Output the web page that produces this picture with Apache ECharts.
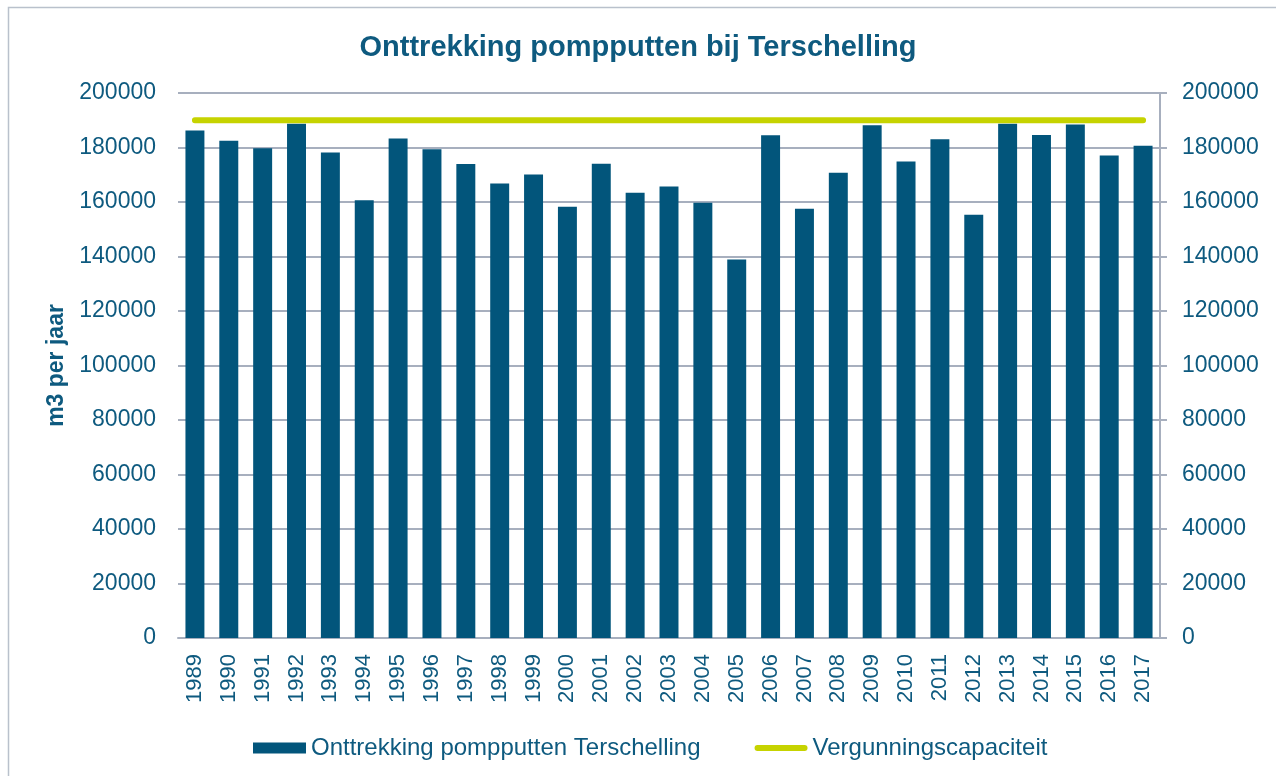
<!DOCTYPE html>
<html>
<head>
<meta charset="utf-8">
<script src="https://cdn.jsdelivr.net/npm/echarts@6/dist/echarts.min.js"></script>
<style>
html,body{margin:0;padding:0;background:#fff;}
#chart{width:1276px;height:776px;}
</style>
</head>
<body>
<div id="chart"></div>
<script>
const years = ['1989','1990','1991','1992','1993','1994','1995','1996','1997','1998','1999','2000','2001','2002','2003','2004','2005','2006','2007','2008','2009','2010','2011','2012','2013','2014','2015','2016','2017'];
const onttrekking = [186200,182500,179700,188700,178200,160600,183300,179400,173900,166800,170100,158300,174000,163400,165700,159700,138900,184500,157500,170700,188200,174900,183000,155300,188700,184600,188400,177100,180600];
const vergunning = [190000,190000,190000,190000,190000,190000,190000,190000,190000,190000,190000,190000,190000,190000,190000,190000,190000,190000,190000,190000,190000,190000,190000,190000,190000,190000,190000,190000,190000];
const seriesNames = ['Onttrekking pompputten Terschelling','Vergunningscapaciteit'];
const titleText = 'Onttrekking pompputten bij Terschelling';
const yName = 'm3 per jaar';

const txt = '#0e5a7f';
const gridCol = '#a7afbe';
const font = '"Liberation Sans", Arial, sans-serif';
const plain = v => String(v);

const chart = echarts.init(document.getElementById('chart'), null, {renderer:'canvas'});
chart.setOption({
  animation:false,
  backgroundColor:'#fff',
  graphic:[{type:'rect', shape:{x:8.5,y:7.5,width:1300,height:800}, style:{fill:'none', stroke:'#b9c1cc', lineWidth:1.5}, silent:true, z:-10}],
  title:{text:titleText, left:'center', top:28, textStyle:{color:txt, fontFamily:font, fontSize:29, fontWeight:'bold'}},
  legend:{left:248, top:731, itemGap:54, itemWidth:53, itemHeight:11,
    textStyle:{color:txt, fontFamily:font, fontSize:24},
    data:[{name:seriesNames[0], icon:'rect'},
          {name:seriesNames[1], icon:'path://M0,0 L0.01,0 M0,11 L0.01,11 M3,2.5 L50,2.5 A3,3 0 0 1 50,8.5 L3,8.5 A3,3 0 0 1 3,2.5 Z'}]},
  grid:{left:178, right:116, top:93, bottom:138, containLabel:false},
  xAxis:{type:'category', data:years,
    axisLine:{show:true, lineStyle:{color:gridCol, width:2}},
    axisTick:{show:false},
    axisLabel:{rotate:90, interval:0, margin:16, color:txt, fontFamily:font, fontSize:22}},
  yAxis:[
    {type:'value', min:0, max:200000, interval:20000, position:'left',
     name:yName, nameLocation:'middle', nameGap:110,
     nameTextStyle:{color:txt, fontFamily:font, fontSize:23, fontWeight:'bold'},
     axisLine:{show:false}, axisTick:{show:false},
     splitLine:{show:true, lineStyle:{color:gridCol, width:2}},
     axisLabel:{margin:22, color:txt, fontFamily:font, fontSize:23, formatter:plain}},
    {type:'value', min:0, max:200000, interval:20000, position:'right',
     axisLine:{show:true, lineStyle:{color:gridCol, width:2}},
     axisTick:{show:true, length:7, lineStyle:{color:gridCol, width:2}},
     splitLine:{show:false},
     axisLabel:{margin:22, color:txt, fontFamily:font, fontSize:23, formatter:plain}}
  ],
  series:[
    {name:seriesNames[0], type:'bar', data:onttrekking, yAxisIndex:0, barCategoryGap:'44%',
     itemStyle:{color:'#02557b'}},
    {name:seriesNames[1], type:'line', data:vergunning, yAxisIndex:1, symbol:'none',
     lineStyle:{color:'#c6d300', width:6, cap:'round'}, itemStyle:{color:'#c6d300'}, z:5}
  ]
});
</script>
</body>
</html>
